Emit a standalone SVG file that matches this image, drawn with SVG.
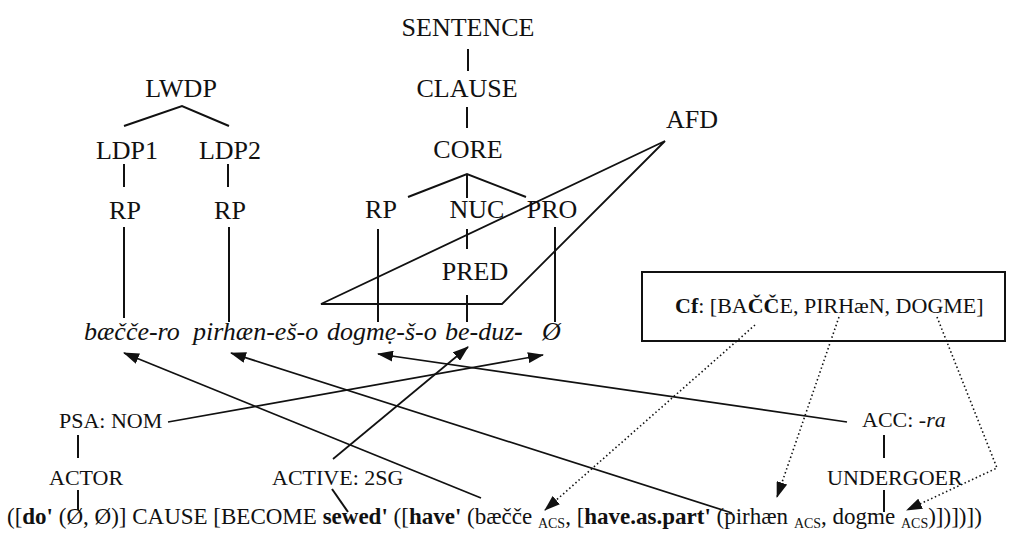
<svg xmlns="http://www.w3.org/2000/svg" width="1012" height="538" viewBox="0 0 1012 538">
  <style>
    text { font-family: "Liberation Serif", "Times New Roman", serif; fill: #111; }
    .t { font-size: 26px; text-anchor: middle; }
    .w { font-size: 26px; font-style: italic; }
    .l { font-size: 22px; }
    .f { font-size: 23px; }
    .s { font-size: 14px; }
    .b { font-weight: bold; }
    .tree line, .tree polyline { stroke: #111; stroke-width: 2; fill: none; }
    .conn path { fill: none; stroke: #111; stroke-width: 1.7; }
    .conn path.dot { stroke-width: 1.6; stroke-dasharray: 1.5 2.6; }
  </style>
  <defs>
    <marker id="ah" markerUnits="userSpaceOnUse" viewBox="0 0 16 11" refX="15" refY="5.5" markerWidth="16" markerHeight="11" orient="auto">
      <path d="M0,0 L16,5.5 L0,11 z" fill="#111"/>
    </marker>
  </defs>

  <!-- clause tree -->
  <g id="sentence"><text class="t" x="468" y="36">SENTENCE</text></g>
  <g id="clause"><text class="t" x="467" y="97">CLAUSE</text></g>
  <g id="core"><text class="t" x="468" y="158">CORE</text></g>
  <g id="rp-core"><text class="t" x="381" y="218">RP</text></g>
  <g id="nuc"><text class="t" x="477" y="218">NUC</text></g>
  <g id="pro"><text class="t" x="552" y="218">PRO</text></g>
  <g id="pred"><text class="t" x="475" y="280">PRED</text></g>
  <g id="afd"><text class="t" x="692" y="128">AFD</text></g>

  <!-- detached periphery -->
  <g id="lwdp"><text class="t" x="181" y="97">LWDP</text></g>
  <g id="ldp1"><text class="t" x="127" y="159">LDP1</text></g>
  <g id="ldp2"><text class="t" x="230" y="159">LDP2</text></g>
  <g id="rp1"><text class="t" x="125" y="219">RP</text></g>
  <g id="rp2"><text class="t" x="230" y="219">RP</text></g>

  <!-- the sentence -->
  <g id="words">
    <text class="w" x="84" y="340">bæčče-ro</text>
    <text class="w" x="193" y="340">pirhæn-eš-o</text>
    <text class="w" x="327" y="340">dogmẹ-š-o</text>
    <text class="w" x="445" y="340">be-duz<tspan class="b">-</tspan></text>
    <text class="w" x="542" y="340">Ø</text>
  </g>

  <!-- linking labels -->
  <g id="psa"><text class="l" x="59" y="428">PSA: NOM</text></g>
  <g id="actor"><text class="l" x="49" y="485">ACTOR</text></g>
  <g id="active"><text class="l" x="272" y="485">ACTIVE: 2SG</text></g>
  <g id="acc"><text class="l" x="862" y="427">ACC: <tspan font-style="italic">-ra</tspan></text></g>
  <g id="undergoer"><text class="l" x="827" y="485">UNDERGOER</text></g>

  <!-- centering box -->
  <g id="cf">
    <rect x="642" y="272" width="363" height="69" fill="none" stroke="#111" stroke-width="2"/>
    <text class="l" x="675" y="313"><tspan class="b">Cf</tspan>:  [BA<tspan class="b">ČČ</tspan>E, PIRHæN, DOGME]</text>
  </g>

  <!-- logical structure -->
  <g id="ls">
    <text class="f" x="7" y="524">([<tspan class="b">do'</tspan> (Ø, Ø)] CAUSE [BECOME <tspan class="b">sewed'</tspan> ([<tspan class="b">have'</tspan> (bæčče <tspan class="s" dy="4">ACS</tspan><tspan dy="-4">, [</tspan><tspan class="b">have.as.part'</tspan> (pirhæn <tspan class="s" dy="4">ACS</tspan><tspan dy="-4">, dogme </tspan><tspan class="s" dy="4">ACS</tspan><tspan dy="-4">)])])])</tspan></text>
  </g>

  <!-- tree branches -->
  <g class="tree">
    <line x1="468" y1="49" x2="468" y2="71"/>
    <line x1="467" y1="107" x2="467" y2="128"/>
    <polyline points="408,197 467,174 526,197" stroke-width="1.8"/>
    <line x1="467" y1="174" x2="467" y2="198"/>
    <line x1="378" y1="229" x2="378" y2="322"/>
    <line x1="467" y1="229" x2="467" y2="249"/>
    <line x1="467" y1="295" x2="467" y2="322"/>
    <line x1="555" y1="227" x2="555" y2="322"/>
    <polygon points="665,141 321,304 502,304" fill="none" stroke="#111" stroke-width="1.8"/>
    <polyline points="124,126 182,106 229,126" stroke-width="1.8"/>
    <line x1="124" y1="164" x2="124" y2="187"/>
    <line x1="228" y1="164" x2="228" y2="187"/>
    <line x1="124" y1="227" x2="124" y2="318"/>
    <line x1="229" y1="227" x2="229" y2="322" stroke-width="1.5"/>
    <line x1="78" y1="435" x2="78" y2="458"/>
    <line x1="78" y1="490" x2="78" y2="510"/>
    <line x1="884" y1="435" x2="884" y2="458"/>
    <line x1="884" y1="490" x2="884" y2="512"/>
    <line x1="332" y1="489" x2="348" y2="512" stroke-width="1.7"/>
  </g>

  <!-- linking arrows -->
  <g class="conn">
    <path d="M481,498 L124,353" marker-end="url(#ah)"/>
    <path d="M732,513 L231,353" marker-end="url(#ah)"/>
    <path d="M847,422 L378,354" marker-end="url(#ah)"/>
    <path d="M168,422 L543,355" marker-end="url(#ah)"/>
    <path d="M333,459 L468,347" marker-end="url(#ah)"/>
    <path class="dot" d="M755,325 L545,510" marker-end="url(#ah)"/>
    <path class="dot" d="M839,317 L777,497" marker-end="url(#ah)"/>
    <path class="dot" d="M937,317 L997,468 L907,510" marker-end="url(#ah)"/>
  </g>
</svg>
